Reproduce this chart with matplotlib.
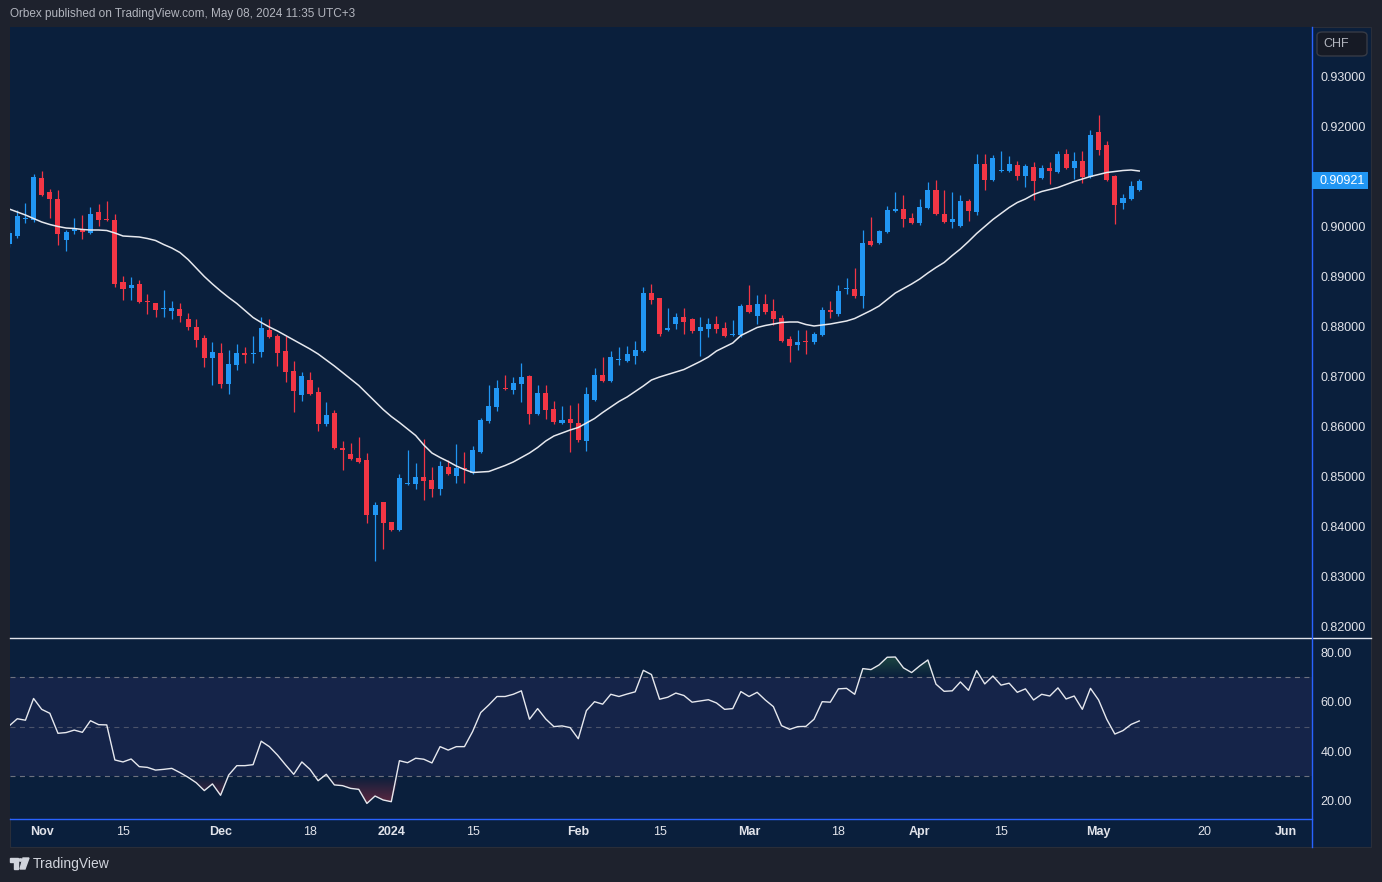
"""USD/CHF daily candles with a 20-day SMA and an RSI pane, TradingView style."""
import matplotlib.colors as mcolors
import matplotlib.pyplot as plt
import numpy as np
import pandas as pd
from matplotlib.lines import Line2D
from matplotlib.patches import FancyBboxPatch, Polygon, Circle, Rectangle
from matplotlib.transforms import blended_transform_factory

plt.rcParams["font.family"] = ["Liberation Sans", "DejaVu Sans"]

W, H = 1382, 882

FRAME = "#1e222d"
NAVY = "#0a1f3c"
UP = "#2196f3"
DOWN = "#f23645"
TEXT = "#d1d4dc"
AXIS_BLUE = "#2962ff"

FIRST_DAY = "2023-10-26"  # first (partly cut) bar, every weekday after it

# --- data ---
opens = [
    0.8966, 0.8981, 0.9015, 0.9014, 0.9097, 0.9070, 0.9056, 0.8974, 0.8991, 0.8996, 0.8988,
    0.9029, 0.9016, 0.9014, 0.8890, 0.8878, 0.8886, 0.8851, 0.8848, 0.8835, 0.8831,
    0.8836, 0.8816, 0.8800, 0.8778, 0.8737, 0.8748, 0.8685, 0.8723, 0.8748, 0.8746,
    0.8750, 0.8794, 0.8782, 0.8752, 0.8712, 0.8664, 0.8694, 0.8670, 0.8606, 0.8628,
    0.8558, 0.8546, 0.8538, 0.8534, 0.8424, 0.8450, 0.8410, 0.8394, 0.8486, 0.8486,
    0.8500, 0.8494, 0.8476, 0.8520, 0.8502, 0.8518, 0.8508, 0.8550, 0.8612, 0.8640,
    0.8678, 0.8674, 0.8686, 0.8702, 0.8626, 0.8668, 0.8636, 0.8608, 0.8616, 0.8608,
    0.8572, 0.8654, 0.8704, 0.8692, 0.8733, 0.8732, 0.8742, 0.8752, 0.8868, 0.8858,
    0.8794, 0.8806, 0.8820, 0.8816, 0.8792, 0.8796, 0.8806, 0.8798, 0.8784, 0.8784,
    0.8844, 0.8822, 0.8846, 0.8832, 0.8818, 0.8776, 0.8764, 0.8772, 0.8770, 0.8784,
    0.8834, 0.8826, 0.8875, 0.8876, 0.8862, 0.8972, 0.8968, 0.8990, 0.9032, 0.9036,
    0.9018, 0.9008, 0.9038, 0.9074, 0.9026, 0.9010, 0.9002, 0.9052, 0.9030, 0.9126,
    0.9094, 0.9112, 0.9112, 0.9124, 0.9102, 0.9120, 0.9098, 0.9118, 0.9110, 0.9146,
    0.9118, 0.9132, 0.9100, 0.9190, 0.9164, 0.9102, 0.9048, 0.9056, 0.9074,
]
highs = [
    0.8994, 0.9034, 0.9049, 0.9106, 0.9112, 0.9077, 0.9074, 0.8995, 0.9018, 0.9024, 0.9040,
    0.9046, 0.9052, 0.9026, 0.8902, 0.8900, 0.8894, 0.8866, 0.8849, 0.8874, 0.8852,
    0.8848, 0.8828, 0.8817, 0.8784, 0.8770, 0.8768, 0.8754, 0.8766, 0.8760, 0.8782,
    0.8820, 0.8816, 0.8786, 0.8782, 0.8732, 0.8710, 0.8710, 0.8680, 0.8650, 0.8634,
    0.8572, 0.8568, 0.8580, 0.8548, 0.8450, 0.8451, 0.8411, 0.8506, 0.8554, 0.8528,
    0.8576, 0.8520, 0.8532, 0.8534, 0.8566, 0.8550, 0.8562, 0.8618, 0.8684, 0.8694,
    0.8704, 0.8700, 0.8728, 0.8704, 0.8684, 0.8684, 0.8652, 0.8642, 0.8644, 0.8648,
    0.8680, 0.8718, 0.8740, 0.8752, 0.8760, 0.8762, 0.8772, 0.8880, 0.8886, 0.8859,
    0.8838, 0.8828, 0.8838, 0.8818, 0.8820, 0.8818, 0.8822, 0.8810, 0.8814, 0.8846,
    0.8884, 0.8864, 0.8866, 0.8856, 0.8824, 0.8782, 0.8794, 0.8794, 0.8790, 0.8840,
    0.8852, 0.8884, 0.8898, 0.8918, 0.8994, 0.9020, 0.8994, 0.9042, 0.9070, 0.9064,
    0.9028, 0.9056, 0.9090, 0.9094, 0.9074, 0.9070, 0.9064, 0.9056, 0.9146, 0.9146,
    0.9144, 0.9152, 0.9142, 0.9132, 0.9126, 0.9130, 0.9124, 0.9130, 0.9152, 0.9156,
    0.9150, 0.9152, 0.9194, 0.9224, 0.9172, 0.9104, 0.9066, 0.9092, 0.9096,
]
lows = [
    0.8960, 0.8979, 0.9009, 0.9011, 0.9063, 0.9019, 0.8964, 0.8952, 0.8986, 0.8976, 0.8987,
    0.9002, 0.9012, 0.8881, 0.8854, 0.8854, 0.8848, 0.8826, 0.8821, 0.8821, 0.8817,
    0.8811, 0.8795, 0.8761, 0.8721, 0.8685, 0.8679, 0.8667, 0.8715, 0.8728, 0.8728,
    0.8741, 0.8778, 0.8722, 0.8690, 0.8630, 0.8652, 0.8665, 0.8592, 0.8602, 0.8557,
    0.8514, 0.8535, 0.8529, 0.8408, 0.8332, 0.8356, 0.8393, 0.8393, 0.8485, 0.8476,
    0.8454, 0.8460, 0.8464, 0.8505, 0.8488, 0.8488, 0.8507, 0.8549, 0.8608, 0.8632,
    0.8675, 0.8666, 0.8650, 0.8606, 0.8625, 0.8616, 0.8606, 0.8607, 0.8550, 0.8570,
    0.8552, 0.8653, 0.8690, 0.8691, 0.8724, 0.8730, 0.8726, 0.8751, 0.8846, 0.8782,
    0.8793, 0.8796, 0.8786, 0.8788, 0.8742, 0.8780, 0.8788, 0.8781, 0.8783, 0.8780,
    0.8829, 0.8806, 0.8826, 0.8804, 0.8771, 0.8730, 0.8754, 0.8746, 0.8766, 0.8782,
    0.8818, 0.8822, 0.8866, 0.8858, 0.8838, 0.8963, 0.8967, 0.8989, 0.9031, 0.9000,
    0.9006, 0.9004, 0.9037, 0.9025, 0.9008, 0.8998, 0.9001, 0.9012, 0.9024, 0.9074,
    0.9093, 0.9111, 0.9110, 0.9094, 0.9080, 0.9054, 0.9097, 0.9086, 0.9109, 0.9116,
    0.9096, 0.9088, 0.9099, 0.9144, 0.9093, 0.9006, 0.9036, 0.9055, 0.9073,
]
closes = [
    0.8988, 0.9021, 0.9017, 0.9099, 0.9064, 0.9055, 0.8986, 0.8990, 0.8998, 0.8989, 0.9026,
    0.9013, 0.9014, 0.8885, 0.8876, 0.8884, 0.8849, 0.8849, 0.8833, 0.8836, 0.8838,
    0.8821, 0.8799, 0.8774, 0.8737, 0.8750, 0.8685, 0.8726, 0.8748, 0.8744, 0.8748,
    0.8798, 0.8780, 0.8748, 0.8710, 0.8672, 0.8702, 0.8666, 0.8606, 0.8624, 0.8558,
    0.8554, 0.8536, 0.8530, 0.8424, 0.8444, 0.8408, 0.8394, 0.8498, 0.8488, 0.8500,
    0.8492, 0.8476, 0.8522, 0.8506, 0.8518, 0.8516, 0.8554, 0.8614, 0.8642, 0.8678,
    0.8676, 0.8688, 0.8700, 0.8626, 0.8668, 0.8634, 0.8610, 0.8614, 0.8608, 0.8574,
    0.8666, 0.8704, 0.8692, 0.8740, 0.8734, 0.8746, 0.8754, 0.8868, 0.8854, 0.8786,
    0.8798, 0.8820, 0.8810, 0.8792, 0.8800, 0.8806, 0.8796, 0.8782, 0.8786, 0.8842,
    0.8830, 0.8846, 0.8830, 0.8816, 0.8772, 0.8762, 0.8770, 0.8770, 0.8786, 0.8834,
    0.8830, 0.8872, 0.8876, 0.8862, 0.8968, 0.8964, 0.8992, 0.9034, 0.9036, 0.9016,
    0.9008, 0.9040, 0.9074, 0.9026, 0.9010, 0.9016, 0.9052, 0.9032, 0.9126, 0.9094,
    0.9138, 0.9114, 0.9126, 0.9102, 0.9122, 0.9092, 0.9118, 0.9112, 0.9146, 0.9118,
    0.9132, 0.9100, 0.9184, 0.9154, 0.9094, 0.9044, 0.9058, 0.9082, 0.90921,
]
sma20 = [
    0.9036, 0.9030, 0.9024, 0.9017, 0.9010, 0.9005, 0.9001, 0.8998, 0.8997, 0.8995, 0.8994,
    0.8994, 0.8993, 0.8988, 0.8982, 0.8981, 0.8980, 0.8977, 0.8973, 0.8965, 0.8958,
    0.8949, 0.8935, 0.8918, 0.8901, 0.8886, 0.8872, 0.8859, 0.8847, 0.8833, 0.8819,
    0.8809, 0.8800, 0.8792, 0.8783, 0.8774, 0.8765, 0.8756, 0.8746, 0.8734, 0.8722,
    0.8709, 0.8696, 0.8683, 0.8667, 0.8651, 0.8635, 0.8621, 0.8609, 0.8596, 0.8583,
    0.8564, 0.8548, 0.8539, 0.8531, 0.8522, 0.8515, 0.8509, 0.8510, 0.8511, 0.8517,
    0.8523, 0.8530, 0.8539, 0.8548, 0.8559, 0.8572, 0.8582, 0.8588, 0.8594, 0.8599,
    0.8608, 0.8617, 0.8629, 0.8640, 0.8651, 0.8660, 0.8671, 0.8682, 0.8694, 0.8700,
    0.8705, 0.8710, 0.8715, 0.8723, 0.8731, 0.8740, 0.8752, 0.8760, 0.8768, 0.8783,
    0.8791, 0.8799, 0.8803, 0.8806, 0.8809, 0.8810, 0.8810, 0.8805, 0.8802, 0.8804,
    0.8806, 0.8809, 0.8812, 0.8817, 0.8825, 0.8833, 0.8842, 0.8855, 0.8868, 0.8877,
    0.8886, 0.8896, 0.8908, 0.8919, 0.8929, 0.8943, 0.8956, 0.8971, 0.8987, 0.9001,
    0.9015, 0.9027, 0.9039, 0.9049, 0.9056, 0.9065, 0.9071, 0.9075, 0.9079, 0.9085,
    0.9091, 0.9096, 0.9101, 0.9105, 0.9109, 0.9111, 0.9113, 0.9114, 0.9112,
]
rsi14 = [
    50.3, 53.2, 52.6, 61.4, 57.0, 55.4, 47.3, 47.6, 48.6, 47.7, 52.4,
    50.8, 50.7, 36.5, 35.7, 36.9, 33.8, 33.5, 32.4, 32.7, 33.1,
    31.4, 29.5, 27.3, 24.1, 26.8, 22.2, 30.4, 34.2, 34.2, 34.6,
    44.1, 41.9, 38.5, 34.5, 30.7, 35.7, 32.7, 28.1, 30.7, 26.4,
    26.1, 25.0, 24.6, 18.9, 21.9, 20.3, 19.6, 36.2, 35.4, 37.2,
    36.8, 35.3, 41.9, 40.5, 41.9, 41.9, 48.0, 55.7, 58.8, 62.2,
    62.2, 63.1, 64.5, 53.0, 57.3, 53.1, 50.0, 50.3, 49.6, 45.1,
    56.5, 60.1, 59.1, 63.1, 62.2, 63.2, 64.1, 72.8, 71.1, 61.1,
    61.9, 63.6, 62.6, 59.9, 60.4, 60.9, 59.6, 57.0, 57.3, 64.2,
    62.2, 63.9, 60.8, 58.1, 50.4, 48.9, 50.0, 50.1, 53.0, 60.1,
    59.9, 65.3, 65.5, 63.1, 73.5, 73.1, 75.0, 78.1, 78.2, 73.8,
    71.9, 74.6, 77.0, 67.2, 64.3, 64.5, 68.1, 64.7, 72.7, 67.3,
    70.5, 66.8, 67.6, 63.9, 65.3, 60.8, 63.1, 62.4, 65.7, 61.2,
    62.4, 57.0, 65.5, 60.8, 53.0, 47.0, 48.4, 50.9, 52.3,
]

time_ticks = [
    "2023-11-01", "2023-11-15", "2023-12-01", "2023-12-18", "2024-01-01",
    "2024-01-15", "2024-02-01", "2024-02-15", "2024-03-01", "2024-03-18",
    "2024-04-01", "2024-04-15", "2024-05-01", "2024-05-20", "2024-06-03",
]
time_labels = ["Nov", "15", "Dec", "18", "2024", "15", "Feb", "15", "Mar", "18",
               "Apr", "15", "May", "20", "Jun"]
price_ticks = [0.82, 0.83, 0.84, 0.85, 0.86, 0.87, 0.88, 0.89, 0.90, 0.92, 0.93]
rsi_ticks = [20, 40, 60, 80]
rsi_bands = [30, 50, 70]


def px(x, y):
    """Pixel position (from top-left) to figure fraction."""
    return x / W, 1 - y / H


def gradient_fill(ax, x, y, base, far, color):
    """Fill between RSI line and band edge, fading out towards the band."""
    edge = np.maximum(y, base) if far > base else np.minimum(y, base)
    poly = ax.fill_between(x, base, edge, facecolor="none", edgecolor="none")
    rgba = np.zeros((256, 1, 4))
    rgba[..., :3] = mcolors.to_rgb(color)
    rgba[:, 0, 3] = np.linspace(0, 1, 256)
    if far < base:
        rgba = rgba[::-1]
    lo, hi = sorted((base, far))
    img = ax.imshow(rgba, extent=[x[0], x[-1], lo, hi], origin="lower",
                    aspect="auto", interpolation="bilinear", zorder=1)
    img.set_clip_path(poly.get_paths()[0], transform=ax.transData)


def plot_chart():
    o, h, l, c = (np.array(v) for v in (opens, highs, lows, closes))
    x = np.arange(len(c))
    rsi = np.array(rsi14)

    fig = plt.figure(figsize=(W / 100, H / 100), dpi=100, facecolor=FRAME)
    x0, y0 = px(10, 847)
    fig.patches.append(Rectangle((x0, y0), 1361 / W, 820 / H, transform=fig.transFigure,
                                 facecolor=NAVY, edgecolor="#2a2e39", lw=0.8, zorder=-5))

    ax = fig.add_axes([10 / W, 1 - 637 / H, 1302 / W, 610 / H])
    ax_rsi = fig.add_axes([10 / W, 1 - 818 / H, 1302 / W, 181 / H])

    # --- candles ---
    colors = np.where(c >= o, UP, DOWN)
    ax.vlines(x, l, h, colors=colors, lw=0.9, zorder=2)
    body = np.maximum(np.abs(c - o), 0.00022)
    ax.bar(x, body, bottom=np.minimum(o, c), width=0.62, color=colors, lw=0, zorder=3)

    ax.plot(x, sma20, color="#e6e8ee", lw=1.1, zorder=4)

    # --- RSI pane ---
    ax_rsi.axhspan(30, 70, color="#7e57c2", alpha=0.1, lw=0)
    for level in rsi_bands:
        ax_rsi.axhline(level, color="#787b86", lw=0.8, ls=(0, (4.5, 4)),
                       alpha=0.55 if level == 50 else 0.9, zorder=1)
    gradient_fill(ax_rsi, x, rsi, 70, 100, "#4caf50")
    gradient_fill(ax_rsi, x, rsi, 30, 0, "#f23645")
    ax_rsi.plot(x, rsi, color="#e6e8ee", lw=1.0, zorder=3)

    for a in (ax, ax_rsi):
        a.set_facecolor(NAVY)
        a.set_xlim(0.10, 160.25)
        for s in a.spines.values():
            s.set_visible(False)
        a.set_xticks([])
        a.yaxis.tick_right()
        a.tick_params(axis="y", length=0, pad=6, labelsize=9, labelcolor="#e1e3ea")

    ax.set_ylim(0.818, 0.940)
    ax.set_yticks(price_ticks, [f"{t:.5f}" for t in price_ticks])
    ax_rsi.set_ylim(13.0, 86.3)
    ax_rsi.set_yticks(rsi_ticks, [f"{t:.2f}" for t in rsi_ticks])

    # --- time axis ---
    calendar = pd.bdate_range(FIRST_DAY, "2024-06-28")
    tick_pos = calendar.get_indexer(pd.to_datetime(time_ticks))
    trans = blended_transform_factory(ax_rsi.transData, fig.transFigure)
    for pos, lab in zip(tick_pos, time_labels):
        bold = not lab.isdigit() or lab == "2024"
        fig.text(pos, px(0, 832)[1], lab, transform=trans, ha="center", va="center",
                 fontsize=9, color="#e1e3ea", fontweight="bold" if bold else "normal")

    # --- pane separators ---
    fig.add_artist(Line2D([10 / W, 1371 / W], [px(0, 637.5)[1]] * 2, color="#e0e3eb", lw=1))
    fig.add_artist(Line2D([1312 / W] * 2, [px(0, 27)[1], px(0, 847)[1]], color=AXIS_BLUE, lw=1))
    fig.add_artist(Line2D([10 / W, 1312 / W], [px(0, 818.5)[1]] * 2, color=AXIS_BLUE, lw=1))

    # --- last price tag ---
    y_last = ax.transData.transform((0, c[-1]))[1] / fig.bbox.height
    fig.patches.append(Rectangle((1312 / W, y_last - 8.5 / H), 56 / W, 17 / H,
                                 transform=fig.transFigure, facecolor=UP, lw=0, zorder=5))
    fig.text(1320 / W, y_last, f"{c[-1]:.5f}", ha="left", va="center",
             fontsize=9, color="white", zorder=6)

    # --- currency button ---
    bx, by = px(1317, 56)
    fig.patches.append(FancyBboxPatch((bx, by), 50 / W, 24 / H, transform=fig.transFigure,
                                      boxstyle="round,pad=0,rounding_size=0.004",
                                      facecolor="#161a25", edgecolor="#363a45", lw=1, zorder=5))
    fig.text(*px(1336, 44), "CHF", ha="center", va="center", fontsize=9,
             color="#b2b5be", zorder=6)

    # --- header / footer ---
    fig.text(*px(10, 14), "Orbex published on TradingView.com, May 08, 2024 11:35 UTC+3",
             ha="left", va="center", fontsize=8.5, color="#b2b5be")
    logo = "#d1d4dc"
    fig.patches.append(Polygon([px(10, 858), px(18, 858), px(18, 869), px(14, 869),
                                px(14, 862), px(10, 862)], closed=True,
                               transform=fig.transFigure, color=logo))
    fig.patches.append(Circle(px(20.5, 860), 1.8 / W, transform=fig.transFigure, color=logo))
    fig.patches.append(Polygon([px(23, 858), px(29, 858), px(25, 869), px(20, 869)],
                               closed=True, transform=fig.transFigure, color=logo))
    fig.text(*px(33, 864), "TradingView", ha="left", va="center", fontsize=10, color=logo)

    fig.savefig("out.png", dpi=100, facecolor=FRAME)
    plt.close(fig)


if __name__ == "__main__":
    plot_chart()
